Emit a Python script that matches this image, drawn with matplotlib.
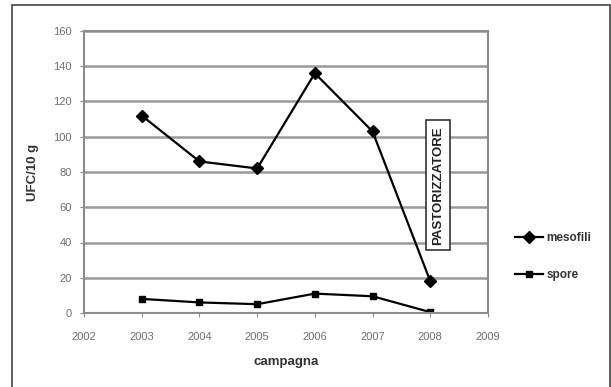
import matplotlib
matplotlib.use("Agg")
import matplotlib.pyplot as plt
from matplotlib.patches import Rectangle

plt.rcParams["font.family"] = ["Liberation Sans", "DejaVu Sans"]

anni = [2003, 2004, 2005, 2006, 2007, 2008]
mesofili = [112, 86, 82, 136, 103, 18]
spore = [8, 6, 5, 11, 9.5, 0.5]
tick_x = [2002, 2003, 2004, 2005, 2006, 2007, 2008, 2009]
tick_y = [0, 20, 40, 60, 80, 100, 120, 140, 160]

fig = plt.figure(figsize=(6.11, 3.87), dpi=100)

# cornice esterna del grafico
fig.patches.append(Rectangle((12 / 611, -0.01), 598 / 611, 1 - 5 / 387 + 0.01,
                             transform=fig.transFigure, fill=False,
                             edgecolor="#444444", linewidth=1.2))

ax = fig.add_axes([84 / 611, 1 - 313 / 387, (488 - 84) / 611, (313 - 31) / 387])

grigio = "#8c8c8c"
ax.set_xlim(2002, 2009)
ax.set_ylim(0, 160)
ax.set_xticks(tick_x)
ax.set_yticks(tick_y)
ax.yaxis.grid(True, color="#9a9a9a", linewidth=1.8)
ax.set_axisbelow(True)
for s in ax.spines.values():
    s.set_color(grigio)
    s.set_linewidth(1.5)
ax.tick_params(axis="both", colors=grigio, labelcolor="#707070", labelsize=8, length=3)
ax.tick_params(axis="x", pad=11)
ax.tick_params(axis="y", pad=6)

ax.plot(anni, mesofili, color="black", marker="D", markersize=6, linewidth=1.6, label="mesofili")
ax.plot(anni, spore, color="black", marker="s", markersize=5, linewidth=1.6, label="spore")

ax.set_xlabel("campagna", fontsize=9.5, color="#333333", fontweight="bold", labelpad=10)
ax.set_ylabel("UFC/10 g", fontsize=9.5, color="#333333", fontweight="bold", labelpad=10)

ax.text(2008.14, 72.5, "PASTORIZZATORE", rotation=90, ha="center", va="center",
        fontsize=9.5, color="#222222", fontweight="bold",
        bbox=dict(boxstyle="square,pad=0.45", facecolor="white", edgecolor="#333333", linewidth=1.2))

leg = ax.legend(loc="center left", bbox_to_anchor=(1.04, 0.2), frameon=False,
                fontsize=8.5, labelspacing=2.05, handlelength=2.4, handletextpad=0.3)
for t in leg.get_texts():
    t.set_color("#333333")
    t.set_fontweight("bold")

fig.savefig("out.png", dpi=100)
